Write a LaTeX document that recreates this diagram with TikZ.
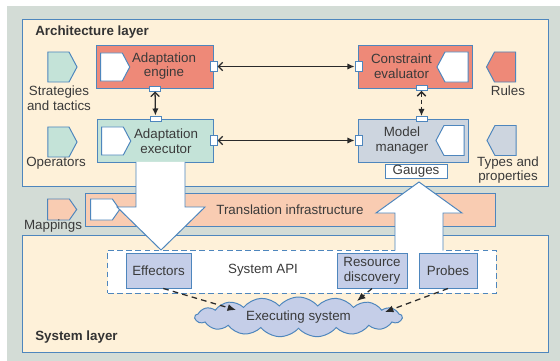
\documentclass[tikz,border=0pt]{standalone}
\usepackage{fontspec}
\setmainfont{Liberation Sans}
\usetikzlibrary{shapes.symbols,arrows.meta}
\definecolor{bgd}{HTML}{D3DCD6}
\definecolor{bgl}{HTML}{F3F4F0}
\definecolor{cream}{HTML}{FEF1D9}
\definecolor{bord}{HTML}{4E86BD}
\definecolor{engred}{HTML}{EE8978}
\definecolor{teal}{HTML}{C4E3D8}
\definecolor{grayb}{HTML}{CDD5DF}
\definecolor{peach}{HTML}{F9CCB2}
\definecolor{lblue}{HTML}{C5CEE8}
\definecolor{txt}{HTML}{3A3A3A}
\definecolor{lnk}{HTML}{2A2A2A}

\begin{document}
\begin{tikzpicture}[x=0.025cm, y=-0.025cm,
  font=\fontsize{9.5}{10.5}\selectfont,
  every node/.style={text=txt},
  box/.style={draw=bord, line width=0.7pt, rectangle, inner sep=0pt},
  tag/.style={draw=bord, line width=0.7pt, signal, signal to=east, signal pointer angle=124,
    inner sep=0pt, minimum width=0.725cm, minimum height=0.75cm},
  port/.style={draw=bord, fill=white, line width=0.7pt, inner sep=0pt,
    minimum width=0.175cm, minimum height=0.25cm},
  hport/.style={port, minimum width=0.275cm, minimum height=0.125cm},
  link/.style={line width=0.9pt, draw=lnk,
    {Straight Barb[length=3pt,width=6pt]}-{Latex[length=5pt,width=4.5pt]}},
  dlink/.style={line width=0.9pt, draw=lnk, dash pattern=on 4pt off 3pt,
    -{Latex[length=6pt,width=5pt]}},
  lbl/.style={align=center, inner sep=0pt},
  ttl/.style={font=\fontsize{9.5}{10.5}\selectfont\bfseries, text=black!80, anchor=west, inner sep=0pt}]

\useasboundingbox (0,0) rectangle (560,361);
\shade[left color=bgd, middle color=bgl, right color=bgd] (7,7) rectangle (560,361);

\node[box, fill=cream, minimum width=13.125cm, minimum height=4.15cm] (arch) at (285.5,103) {};
\node[ttl] (arch-t) at (35,32) {Architecture layer};
\node[box, fill=cream, minimum width=13.125cm, minimum height=2.9cm] (sys) at (285.5,294) {};
\node[ttl] (sys-t) at (35,337) {System layer};

\node[box, fill=peach, minimum width=10.225cm, minimum height=0.825cm] (trans) at (290.5,209.5) {};
\node[lbl] (trans-t) at (290,209.5) {Translation infrastructure};
\node[tag, fill=white, minimum height=0.525cm, signal pointer angle=110] (trans-in) at (101.5,209.5) {};
\node[tag, fill=peach, minimum height=0.525cm, signal pointer angle=110] (map) at (58.5,209.5) {};
\node[lbl] (map-t) at (53,226) {Mappings};

\node[tag, fill=teal] (strat) at (58.5,67) {};
\node[lbl] (strat-t) at (59,98.5) {Strategies\\and tactics};
\node[tag, fill=teal] (ops) at (58.5,142) {};
\node[lbl] (ops-t) at (56,163) {Operators};
\node[tag, fill=engred, signal to=west] (rules) at (505,67) {};
\node[lbl] (rules-t) at (508,91) {Rules};
\node[tag, fill=grayb, signal to=west] (types) at (505.5,140.5) {};
\node[lbl] (types-t) at (508,170) {Types and\\properties};

\node[box, fill=engred, minimum width=2.9cm, minimum height=1.075cm] (engine) at (155,66.5) {};
\node[tag, fill=white, minimum height=0.7cm] (engine-in) at (111.5,67) {};
\node[lbl] (engine-t) at (164,66) {Adaptation\\engine};
\node[box, fill=teal, minimum width=2.875cm, minimum height=1.075cm] (exec) at (155.5,140.5) {};
\node[tag, fill=white, minimum height=0.7cm] (exec-in) at (112.5,141) {};
\node[lbl] (exec-t) at (166,141) {Adaptation\\executor};
\node[box, fill=engred, minimum width=2.825cm, minimum height=1.075cm] (eval) at (415.5,66.5) {};
\node[tag, fill=white, signal to=west, minimum width=0.775cm] (eval-in) at (456.5,67) {};
\node[lbl] (eval-t) at (401.5,66) {Constraint\\evaluator};
\node[box, fill=grayb, minimum width=2.725cm, minimum height=1.075cm] (mgr) at (413.5,140.5) {};
\node[tag, fill=white, signal to=west, minimum width=0.7cm] (mgr-in) at (454,140.5) {};
\node[lbl] (mgr-t) at (402,140.5) {Model\\manager};
\node[box, fill=white, minimum width=1.55cm, minimum height=0.35cm] (gauges) at (416,171) {Gauges};

\node[port] (engine-e) at (engine.east) {};
\node[hport] (engine-s) at (engine.south) {};
\node[hport] (exec-n) at (exec.north) {};
\node[port] (exec-e) at (exec.east) {};
\node[port] (eval-w) at (eval.west) {};
\node[hport] (eval-s) at (421.5,88) {};
\node[hport] (mgr-n) at (421.5,119) {};
\node[port] (mgr-w) at (mgr.west) {};

\draw[link] (engine-e) -- (eval-w);
\draw[link] (exec-e) -- (mgr-w);
\draw[link] (engine-s) -- (exec-n);
\draw[link, dash pattern=on 3pt off 2pt] (eval-s) -- (mgr-n);

\node[box, fill=white, dash pattern=on 4pt off 2.5pt, minimum width=9.7cm, minimum height=1.075cm] (api) at (302,271.5) {};
\node[lbl] (api-t) at (263,270) {System API};

\fill[white] (136,162) -- (136,207) -- (117,207) -- (161,250) -- (205,207) -- (185,207) -- (185,162) -- cycle;
\draw[bord, line width=0.7pt] (136,162) -- (136,207) -- (117,207) -- (161,250) -- (205,207) -- (185,207) -- (185,162);
\fill[white] (395,251) -- (395,213) -- (376,213) -- (419,182) -- (462,213) -- (443,213) -- (443,251) -- cycle;
\draw[bord, line width=0.7pt] (395,250.5) -- (395,213) -- (376,213) -- (419,182) -- (462,213) -- (443,213) -- (443,250.5);

\node[box, fill=lblue, minimum width=1.625cm, minimum height=0.875cm] (eff) at (158.5,270.5) {Effectors};
\node[box, fill=lblue, align=center, minimum width=1.75cm, minimum height=0.875cm] (res) at (372,270.5) {Resource\\discovery};
\node[box, fill=lblue, minimum width=1.45cm, minimum height=0.875cm] (probes) at (448,270.5) {Probes};

\node[cloud, draw=bord, fill=lblue, line width=0.7pt, cloud puffs=17, cloud puff arc=100,
  cloud ignores aspect, minimum width=5.175cm, minimum height=1cm, inner sep=0pt] (cloud) at (298.5,317) {Executing system};
\coordinate (eff-in) at (236,310);
\coordinate (res-in) at (357,301);
\coordinate (probes-in) at (385,312);

\draw[dlink] (eff.285) -- (eff-in);
\draw[dlink] (res.south) -- (res-in);
\draw[dlink] (probes.south) -- (probes-in);
\end{tikzpicture}
\end{document}
